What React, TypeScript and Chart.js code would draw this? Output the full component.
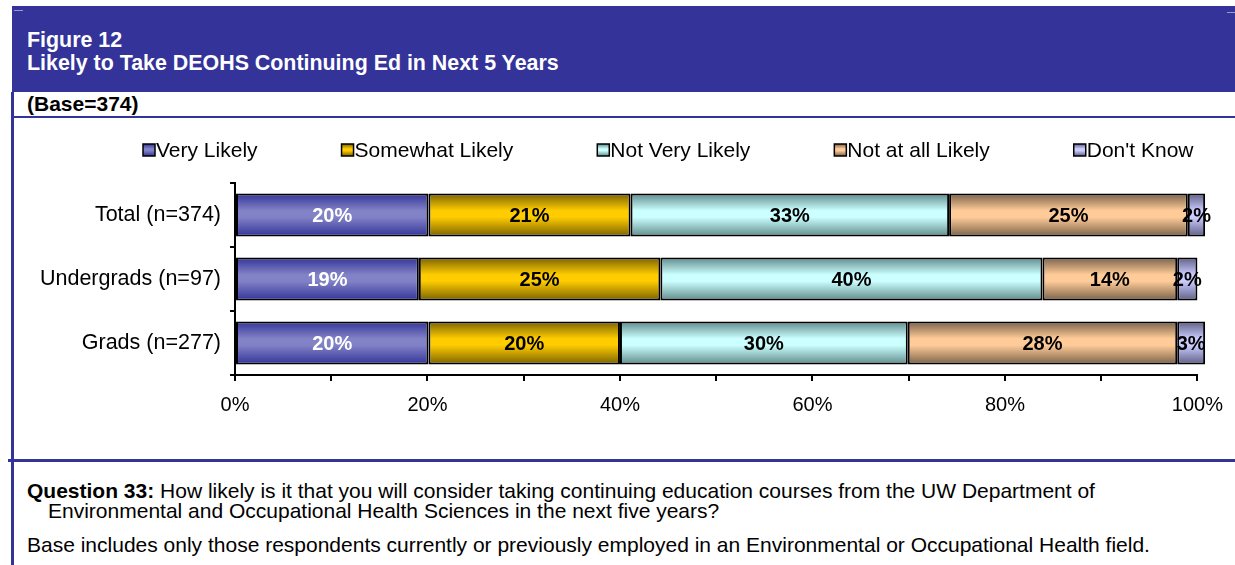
import React, { useEffect, useRef } from 'react';
import { Chart, registerables } from 'chart.js';

Chart.register(...registerables);

const FONT = '"Liberation Sans", Arial, Helvetica, sans-serif';

const CATEGORIES = ['Total (n=374)', 'Undergrads (n=97)', 'Grads (n=277)'];
const SERIES = ['Very Likely', 'Somewhat Likely', 'Not Very Likely', 'Not at all Likely', "Don't Know"];

const VERY_LIKELY = [20.1, 19.1, 20.1];
const SOMEWHAT_LIKELY = [21.0, 25.1, 19.9];
const NOT_VERY_LIKELY = [33.1, 39.7, 29.9];
const NOT_AT_ALL_LIKELY = [24.8, 14.0, 28.0];
const DONT_KNOW = [1.8, 2.1, 2.9];

const SERIES_VALUES = [VERY_LIKELY, SOMEWHAT_LIKELY, NOT_VERY_LIKELY, NOT_AT_ALL_LIKELY, DONT_KNOW];

// [dark edge, light centre]
const SERIES_COLORS: [string, string][] = [
  ['#333399', '#8282c6'],
  ['#7a6200', '#ffcc00'],
  ['#5f8a8a', '#ccffff'],
  ['#7a6048', '#ffcc99'],
  ['#5e5e86', '#ccccff'],
];
const LABEL_COLORS = ['#ffffff', '#000000', '#000000', '#000000', '#000000'];

const X_MIN = 0;
const X_MAX = 100;
const X_STEP = 10;
const X_LABEL_EVERY = 20;

const BAR_PCT = 0.67;

function addStops(g: CanvasGradient, dark: string, light: string) {
  g.addColorStop(0, dark);
  g.addColorStop(0.4, light);
  g.addColorStop(0.55, light);
  g.addColorStop(1, dark);
  return g;
}

function gradientFill(dark: string, light: string) {
  return (ctx: any) => {
    const chart = ctx.chart;
    const ys = chart.scales && chart.scales.y;
    if (ctx.type !== 'data' || !ys || !chart.chartArea) return light;
    const yc = ys.getPixelForValue(ctx.dataIndex);
    const slot = ys.height / CATEGORIES.length;
    const h = slot * BAR_PCT;
    const g = chart.ctx.createLinearGradient(0, yc - h / 2, 0, yc + h / 2);
    return addStops(g, dark, light);
  };
}

const legendPlugin = {
  id: 'figLegend',
  afterDraw(chart: any) {
    const ctx = chart.ctx as CanvasRenderingContext2D;
    ctx.save();
    ctx.font = `21px ${FONT}`;
    ctx.textBaseline = 'middle';
    ctx.textAlign = 'left';
    let x = 129;
    const y = 32;
    SERIES.forEach((name, i) => {
      const [dark, light] = SERIES_COLORS[i];
      const g = ctx.createLinearGradient(0, y - 6, 0, y + 6);
      ctx.fillStyle = addStops(g, dark, light);
      ctx.fillRect(x, y - 6, 12, 12);
      ctx.strokeStyle = '#000';
      ctx.lineWidth = 1.5;
      ctx.strokeRect(x, y - 6, 12, 12);
      ctx.fillStyle = '#000';
      ctx.fillText(name, x + 13, y + 1);
      x += 13 + ctx.measureText(name).width + 84;
    });
    ctx.restore();
  },
};

const labelPlugin = {
  id: 'barLabels',
  afterDatasetsDraw(chart: any) {
    const ctx = chart.ctx as CanvasRenderingContext2D;
    ctx.save();
    ctx.font = `bold 20px ${FONT}`;
    ctx.textAlign = 'center';
    ctx.textBaseline = 'middle';
    chart.data.datasets.forEach((ds: any, i: number) => {
      const meta = chart.getDatasetMeta(i);
      meta.data.forEach((bar: any, j: number) => {
        const { x, base, y } = bar.getProps(['x', 'base', 'y'], true);
        ctx.fillStyle = LABEL_COLORS[i];
        ctx.fillText(Math.round(ds.data[j]) + '%', (x + base) / 2, y + 1);
      });
    });
    ctx.restore();
  },
};

function FigureChart() {
  const ref = useRef<HTMLCanvasElement | null>(null);
  useEffect(() => {
    if (!ref.current) return;
    const chart = new Chart(ref.current, {
      type: 'bar',
      data: {
        labels: CATEGORIES,
        datasets: SERIES.map((name, i) => ({
          label: name,
          data: SERIES_VALUES[i],
          backgroundColor: gradientFill(SERIES_COLORS[i][0], SERIES_COLORS[i][1]),
          borderColor: '#000',
          borderWidth: 2,
          borderSkipped: false,
          barPercentage: BAR_PCT,
          categoryPercentage: 1,
          clip: false as any,
        })),
      },
      options: {
        indexAxis: 'y',
        responsive: false,
        animation: false,
        layout: { padding: { top: 65, right: 36, left: 0, bottom: 0 } },
        plugins: {
          legend: { display: false },
          tooltip: { enabled: false },
          title: { display: false },
        },
        scales: {
          x: {
            stacked: true,
            min: X_MIN,
            max: X_MAX,
            afterFit: (s: any) => { s.height = 83; },
            ticks: {
              stepSize: X_STEP,
              autoSkip: false,
              maxRotation: 0,
              color: '#000',
              padding: 12,
              font: { family: FONT, size: 20 },
              callback: (v: any) => (Number(v) % X_LABEL_EVERY === 0 ? v + '%' : ''),
            },
            grid: { drawOnChartArea: false, tickLength: 6, color: '#000', lineWidth: 2 },
            border: { color: '#000', width: 2 },
          },
          y: {
            stacked: true,
            afterFit: (s: any) => { s.width = 221; },
            ticks: {
              color: '#000',
              padding: 9,
              font: { family: FONT, size: 21.5 },
            },
            grid: { drawOnChartArea: false, tickLength: 5, color: '#000', lineWidth: 2, offset: true },
            border: { color: '#000', width: 2 },
          },
        },
      },
      plugins: [legendPlugin, labelPlugin],
    });
    return () => chart.destroy();
  }, []);
  return <canvas ref={ref} width={1221} height={340} style={{ display: 'block', width: 1221, height: 340 }} />;
}

const BLUE = '#333399';

export default function App() {
  const abs = (s: React.CSSProperties): React.CSSProperties => ({ position: 'absolute', ...s });
  const textLine = (top: number, left: number, size: number, bold: boolean, color: string): React.CSSProperties =>
    abs({ top, left, fontSize: size, fontWeight: bold ? 'bold' : 'normal', color, lineHeight: '24px', whiteSpace: 'nowrap' });
  return (
    <div style={abs({ left: 0, top: 0, width: 1235, height: 565, background: '#fff', overflow: 'hidden', fontFamily: FONT })}>
      <div style={abs({ left: 12, top: 6, width: 1223, height: 86, background: BLUE })} />
      <div style={abs({ left: 14, top: 10, width: 9, height: 1, background: '#9a9ad0' })} />
      <div style={abs({ left: 1227, top: 12, width: 8, height: 1, background: '#9a9ad0' })} />
      <div style={textLine(28, 27, 21.4, true, '#fff')}>Figure 12</div>
      <div style={textLine(51, 27, 21.4, true, '#fff')}>Likely to Take DEOHS Continuing Ed in Next 5 Years</div>
      <div style={abs({ left: 11, top: 92, width: 3, height: 473, background: BLUE })} />
      <div style={textLine(92, 27, 21, true, '#000')}>(Base=374)</div>
      <div style={abs({ left: 12, top: 116, width: 1223, height: 2, background: BLUE })} />
      <div style={abs({ left: 14, top: 118, width: 1221, height: 340 })}>
        <FigureChart />
      </div>
      <div style={abs({ left: 8, top: 459, width: 1227, height: 3, background: BLUE })} />
      <div style={textLine(479, 27, 21, false, '#000')}>
        <b>Question 33:</b> How likely is it that you will consider taking continuing education courses from the UW Department of
      </div>
      <div style={textLine(499, 48, 21, false, '#000')}>
        Environmental and Occupational Health Sciences in the next five years?
      </div>
      <div style={textLine(533, 27, 21, false, '#000')}>
        Base includes only those respondents currently or previously employed in an Environmental or Occupational Health field.
      </div>
    </div>
  );
}
